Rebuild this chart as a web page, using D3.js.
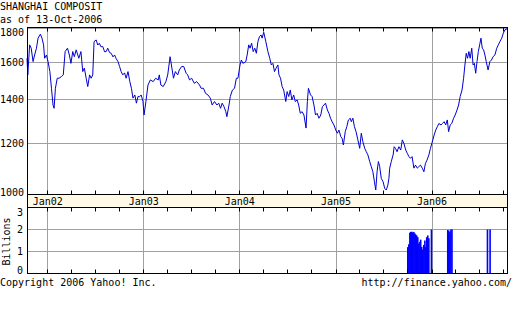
<!DOCTYPE html>
<html><head><meta charset="utf-8">
<script src="https://cdn.jsdelivr.net/npm/d3@7"></script>
<style>html,body{margin:0;padding:0;background:#fff;}svg{display:block;}text{font-family:"DejaVu Sans Mono",monospace;font-size:10px;fill:#000;}</style>
</head><body>
<script>
const title = "SHANGHAI COMPOSIT";
const subtitle = "as of 13-Oct-2006";
const copyright = "Copyright 2006 Yahoo! Inc.";
const source = "http://finance.yahoo.com/";
const priceTicks = [1000, 1200, 1400, 1600, 1800];
const volumeTicks = [0, 1, 2, 3];
const volumeLabel = "Billions";
const yearTicks = ["2002-01-01","2003-01-01","2004-01-01","2005-01-01","2006-01-01"];
const dateRange = ["2001-10-14","2006-10-13"];

const price = [
["2001-10-14",1622],["2001-10-17",1529],["2001-10-24",1701],["2001-10-30",1681],["2001-11-06",1603],["2001-11-12",1641],["2001-11-19",1681],["2001-11-25",1742],["2001-12-04",1767],["2001-12-10",1742],["2001-12-16",1701],["2001-12-20",1622],["2001-12-27",1641],
["2002-01-02",1603],["2002-01-09",1547],["2002-01-15",1458],["2002-01-21",1374],["2002-01-25",1358],["2002-01-30",1458],["2002-02-06",1511],["2002-02-13",1511],["2002-02-22",1520],["2002-03-01",1529],["2002-03-08",1661],["2002-03-17",1681],["2002-03-24",1641],["2002-03-30",1593],["2002-04-06",1661],["2002-04-12",1631],["2002-04-19",1671],["2002-04-29",1622],["2002-05-07",1661],["2002-05-14",1547],["2002-05-20",1566],["2002-05-27",1511],["2002-06-02",1467],["2002-06-09",1529],["2002-06-15",1511],["2002-06-21",1529],["2002-06-26",1721],["2002-07-04",1731],["2002-07-10",1700],["2002-07-16",1711],["2002-07-22",1690],["2002-07-29",1691],["2002-08-05",1660],["2002-08-11",1661],["2002-08-17",1681],["2002-08-24",1655],["2002-08-30",1651],["2002-09-06",1630],["2002-09-12",1641],["2002-09-18",1620],["2002-09-25",1603],["2002-10-01",1575],["2002-10-07",1547],["2002-10-13",1529],["2002-10-20",1540],["2002-10-26",1511],["2002-11-02",1547],["2002-11-09",1493],["2002-11-15",1458],["2002-11-21",1408],["2002-11-28",1424],["2002-12-04",1383],["2002-12-10",1416],["2002-12-16",1415],["2002-12-22",1424],["2002-12-29",1391],
["2003-01-02",1326],["2003-01-09",1390],["2003-01-17",1475],["2003-01-26",1502],["2003-02-06",1493],["2003-02-15",1511],["2003-02-25",1502],["2003-03-01",1529],["2003-03-07",1475],["2003-03-16",1467],["2003-03-26",1493],["2003-04-02",1529],["2003-04-11",1631],["2003-04-18",1566],["2003-04-24",1511],["2003-05-01",1547],["2003-05-10",1529],["2003-05-16",1556],["2003-05-25",1575],["2003-06-02",1575],["2003-06-11",1538],["2003-06-17",1529],["2003-06-24",1502],["2003-07-02",1511],["2003-07-12",1484],["2003-07-21",1493],["2003-08-01",1475],["2003-08-07",1458],["2003-08-16",1458],["2003-08-24",1432],["2003-09-02",1424],["2003-09-11",1408],["2003-09-18",1374],["2003-09-27",1391],["2003-10-06",1374],["2003-10-13",1383],["2003-10-20",1358],["2003-10-26",1383],["2003-11-02",1366],["2003-11-09",1342],["2003-11-13",1318],["2003-11-21",1374],["2003-11-26",1416],["2003-12-04",1449],["2003-12-12",1458],["2003-12-19",1511],["2003-12-25",1511],
["2004-01-02",1584],["2004-01-07",1612],["2004-01-13",1593],["2004-01-24",1603],["2004-01-29",1641],["2004-02-04",1701],["2004-02-09",1681],["2004-02-15",1711],["2004-02-21",1661],["2004-02-27",1681],["2004-03-04",1651],["2004-03-10",1721],["2004-03-16",1752],["2004-03-22",1762],["2004-03-26",1742],["2004-04-01",1779],["2004-04-09",1721],["2004-04-17",1661],["2004-04-24",1622],["2004-04-30",1584],["2004-05-06",1593],["2004-05-12",1547],["2004-05-18",1566],["2004-05-25",1584],["2004-05-29",1529],["2004-06-04",1511],["2004-06-10",1467],["2004-06-16",1449],["2004-06-24",1391],["2004-06-29",1441],["2004-07-05",1416],["2004-07-11",1449],["2004-07-17",1399],["2004-07-24",1424],["2004-07-30",1391],["2004-08-06",1399],["2004-08-12",1374],["2004-08-18",1334],["2004-08-25",1342],["2004-09-01",1326],["2004-09-09",1266],["2004-09-14",1391],["2004-09-18",1458],["2004-09-26",1424],["2004-10-02",1416],["2004-10-09",1374],["2004-10-15",1326],["2004-10-21",1334],["2004-10-28",1311],["2004-11-04",1326],["2004-11-10",1366],["2004-11-16",1374],["2004-11-22",1383],["2004-11-29",1350],["2004-12-05",1334],["2004-12-11",1311],["2004-12-17",1295],["2004-12-24",1280],["2004-12-31",1257],
["2005-01-06",1243],["2005-01-12",1257],["2005-01-19",1228],["2005-01-24",1221],["2005-01-29",1192],["2005-02-05",1250],["2005-02-11",1272],["2005-02-17",1303],["2005-02-24",1311],["2005-02-28",1295],["2005-03-06",1311],["2005-03-12",1272],["2005-03-18",1250],["2005-03-25",1214],["2005-04-01",1178],["2005-04-07",1243],["2005-04-13",1206],["2005-04-20",1178],["2005-04-26",1164],["2005-05-02",1151],["2005-05-09",1124],["2005-05-15",1104],["2005-05-21",1084],["2005-05-27",1046],["2005-06-01",1016],["2005-06-06",1084],["2005-06-11",1124],["2005-06-16",1104],["2005-06-22",1059],["2005-06-29",1046],["2005-07-05",1022],["2005-07-11",1016],["2005-07-17",1034],["2005-07-21",1059],["2005-07-24",1098],["2005-07-30",1124],["2005-08-06",1151],["2005-08-10",1185],["2005-08-15",1178],["2005-08-21",1164],["2005-08-28",1185],["2005-09-04",1171],["2005-09-10",1214],["2005-09-16",1199],["2005-09-23",1171],["2005-09-29",1157],["2005-10-05",1144],["2005-10-11",1137],["2005-10-17",1144],["2005-10-24",1098],["2005-10-30",1110],["2005-11-06",1098],["2005-11-12",1104],["2005-11-18",1110],["2005-11-25",1098],["2005-12-01",1084],["2005-12-07",1117],["2005-12-13",1130],["2005-12-20",1151],["2005-12-26",1178],
["2006-01-04",1214],["2006-01-09",1235],["2006-01-15",1257],["2006-01-21",1272],["2006-01-27",1287],["2006-02-04",1280],["2006-02-10",1287],["2006-02-16",1295],["2006-02-22",1280],["2006-02-28",1303],["2006-03-05",1250],["2006-03-11",1280],["2006-03-17",1287],["2006-03-24",1311],["2006-03-30",1326],["2006-04-06",1350],["2006-04-12",1374],["2006-04-18",1416],["2006-04-25",1449],["2006-05-01",1511],["2006-05-06",1584],["2006-05-11",1651],["2006-05-16",1622],["2006-05-21",1661],["2006-05-26",1622],["2006-06-01",1681],["2006-06-06",1584],["2006-06-11",1593],["2006-06-16",1538],["2006-06-21",1603],["2006-06-26",1661],["2006-07-01",1701],["2006-07-06",1742],["2006-07-11",1681],["2006-07-16",1671],["2006-07-21",1641],["2006-07-26",1603],["2006-08-02",1556],["2006-08-09",1603],["2006-08-15",1612],["2006-08-21",1631],["2006-08-28",1641],["2006-09-04",1681],["2006-09-10",1701],["2006-09-16",1721],["2006-09-23",1742],["2006-09-29",1773],["2006-10-05",1794],["2006-10-13",1800]
];

const volume = [
["2005-09-30",1.2],["2005-10-04",1.33],["2005-10-08",1.85],["2005-10-11",1.89],["2005-10-15",1.9],["2005-10-19",1.87],["2005-10-23",1.89],["2005-10-27",1.82],["2005-10-30",1.77],["2005-11-03",1.73],["2005-11-07",1.65],["2005-11-11",1.36],["2005-11-15",1.44],["2005-11-18",1.54],["2005-11-22",1.21],["2005-11-26",1.09],["2005-11-30",1.3],["2005-12-04",1.5],["2005-12-07",1.2],["2005-12-11",1.65],["2005-12-15",1.73],["2005-12-19",1.6],
["2005-12-29",2.0],
["2006-03-01",1.98],["2006-03-05",1.95],["2006-03-09",1.88],["2006-03-13",2.0],["2006-03-17",2.0],
["2006-07-30",2.0],["2006-08-09",2.0]
];

const parse = d3.timeParse("%Y-%m-%d");
const W = 512, H = 315;
const L = 27, R = 507;
const pTop = 28, pBot = 194.5, bandBot = 207.5, vBot = 273.5;
const crisp = v => Math.floor(v) + 0.5;

const svg = d3.select("body").append("svg").attr("width", W).attr("height", H);

const x = d3.scaleTime().domain(dateRange.map(parse)).range([L, R]);
const y = d3.scaleLog().domain([1000, 1806]).range([pBot, pTop]);
const yv = d3.scaleLinear().domain([0, 3]).range([vBot, bandBot]);

const gridColor = "#a0a0a0";

svg.append("text").attr("x", 0).attr("y", 10).text(title);
svg.append("text").attr("x", 0).attr("y", 23).text(subtitle);

svg.append("g").selectAll("line").data(priceTicks.filter(d => d > 1000)).join("line")
  .attr("x1", L).attr("x2", R).attr("y1", d => crisp(y(d))).attr("y2", d => crisp(y(d)))
  .attr("stroke", gridColor).attr("stroke-width", 1);
svg.append("g").selectAll("line").data(volumeTicks.filter(d => d > 0 && d < 3)).join("line")
  .attr("x1", L).attr("x2", R).attr("y1", d => crisp(yv(d))).attr("y2", d => crisp(yv(d)))
  .attr("stroke", gridColor).attr("stroke-width", 1);
const years = yearTicks.map(parse);
svg.append("g").selectAll("line").data(years).join("line")
  .attr("x1", d => crisp(x(d))).attr("x2", d => crisp(x(d))).attr("y1", pTop).attr("y2", pBot)
  .attr("stroke", gridColor);
svg.append("g").selectAll("line").data(years).join("line")
  .attr("x1", d => crisp(x(d))).attr("x2", d => crisp(x(d))).attr("y1", bandBot).attr("y2", vBot)
  .attr("stroke", gridColor);

// volume bars (daily bars, ~1px wide)
svg.append("g").selectAll("rect").data(volume).join("rect")
  .attr("x", d => x(parse(d[0])) - 0.6).attr("width", 1.6)
  .attr("y", d => yv(d[1])).attr("height", d => vBot - yv(d[1]))
  .attr("fill", "#0000ff");

const line = d3.line().x(d => x(parse(d[0]))).y(d => y(d[1]));
svg.append("path").datum(price).attr("d", line)
  .attr("fill", "none").attr("stroke", "#0000d0").attr("stroke-width", 1).attr("stroke-linejoin", "round");

svg.append("rect").attr("x", crisp(L)).attr("y", crisp(pBot)).attr("width", crisp(R) - crisp(L)).attr("height", crisp(bandBot) - crisp(pBot))
  .attr("fill", "#fff9e6").attr("stroke", "#000");
svg.append("g").selectAll("text").data(years).join("text")
  .attr("x", d => x(d)).attr("y", 204.5).attr("text-anchor", "middle")
  .text(d => "Jan" + d3.timeFormat("%y")(d));

svg.append("rect").attr("x", crisp(L)).attr("y", pTop - 0.5).attr("width", crisp(R) - crisp(L)).attr("height", pBot - pTop + 0.5)
  .attr("fill", "none").attr("stroke", "#000");
svg.append("rect").attr("x", crisp(L)).attr("y", crisp(bandBot)).attr("width", crisp(R) - crisp(L)).attr("height", crisp(vBot) - crisp(bandBot))
  .attr("fill", "none").attr("stroke", "#000");

const quarters = d3.timeMonth.every(3).range(x.domain()[0], x.domain()[1]);
const tickG = svg.append("g").attr("stroke", "#000");
quarters.forEach(q => {
  const xx = crisp(x(q));
  [[pTop - 0.5, pTop + 3.5], [pBot - 4, pBot], [bandBot, bandBot + 4], [vBot - 4, vBot]].forEach(s => {
    tickG.append("line").attr("x1", xx).attr("x2", xx).attr("y1", s[0]).attr("y2", s[1]);
  });
});

svg.append("g").selectAll("text").data(priceTicks).join("text")
  .attr("x", 24).attr("text-anchor", "end")
  .attr("y", d => Math.min(Math.max(y(d) + 3.5, pTop + 7.5), pBot + 1.5))
  .text(d => d);
svg.append("g").selectAll("text").data(volumeTicks).join("text")
  .attr("x", 23).attr("text-anchor", "end")
  .attr("y", d => Math.min(Math.max(yv(d) + 3.5, bandBot + 8.5), vBot + 0.5))
  .text(d => d);
svg.append("text").attr("transform", "translate(10,241.5) rotate(-90)").attr("text-anchor", "middle").text(volumeLabel);

svg.append("text").attr("x", 0).attr("y", 285.5).text(copyright);
svg.append("text").attr("x", 512).attr("y", 285.5).attr("text-anchor", "end").text(source);
</script>
</body></html>
